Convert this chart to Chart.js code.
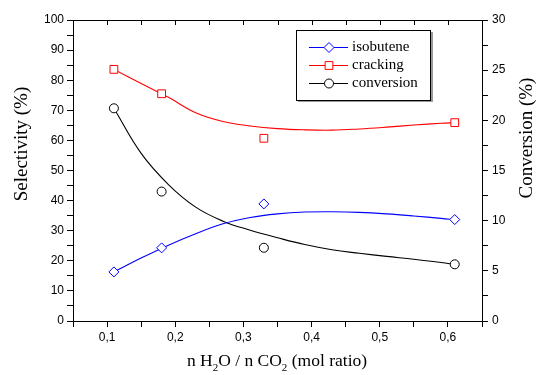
<!DOCTYPE html>
<html>
<head>
<meta charset="utf-8">
<script src="https://cdn.jsdelivr.net/npm/chart.js@4/dist/chart.umd.min.js"></script>
<style>
  html, body { margin: 0; padding: 0; background: #fff; }
</style>
</head>
<body>
<canvas id="myChart" width="536" height="375"></canvas>
<script>
// measured points
const ratios = [0.11, 0.18, 0.33, 0.61]
const isobutene = [16.3, 24.3, 38.9, 33.7]
const cracking = [83.6, 75.5, 60.7, 65.9]
const conversion = [21.2, 12.9, 7.3, 5.65]

// fitted curves
const fitX = [0.11, 0.15, 0.19, 0.23, 0.27, 0.31, 0.35, 0.39, 0.43, 0.47, 0.51, 0.55, 0.59, 0.61]
const isoFit = [16.3, 20.9, 25.2, 29.0, 32.3, 34.4, 35.6, 36.2, 36.3, 36.1, 35.6, 34.9, 34.1, 33.6]
const crackFit = [83.6, 78.9, 74.3, 69.2, 66.3, 64.8, 63.9, 63.5, 63.4, 63.8, 64.4, 65.1, 65.7, 65.9]
const convFit = [21.21, 16.7, 13.6, 11.35, 9.95, 9.05, 8.3, 7.62, 7.1, 6.75, 6.44, 6.16, 5.83, 5.64]

const xy = (xs, ys) => xs.map((x, i) => ({ x: x, y: ys[i] }))

const BLUE = '#0000ff'
const RED = '#ff0000'
const BLACK = '#000000'
const serif = '"Liberation Serif", "Times New Roman", serif'

function fitLine(label, ys, color, axis) {
    return {
        type: 'line', label: label, data: xy(fitX, ys), yAxisID: axis,
        borderColor: color, borderWidth: 1.1, pointRadius: 0,
        tension: 0.4, fill: false
    }
}
function marks(label, ys, color, style, radius, axis) {
    return {
        type: 'line', label: label, data: xy(ratios, ys), yAxisID: axis, showLine: false,
        pointStyle: style, pointRadius: radius, pointBorderWidth: 1,
        pointBorderColor: color, pointBackgroundColor: '#fff', borderColor: color
    }
}

// axis titles, legend, top frame
const extras = {
    id: 'extras',
    afterDraw(chart) {
        const ctx = chart.ctx
        const area = chart.chartArea
        const xs = chart.scales.x
        ctx.save()
        ctx.strokeStyle = BLACK
        ctx.lineWidth = 1
        // top frame + inward ticks
        ctx.beginPath()
        ctx.moveTo(area.left, area.top + 0.5)
        ctx.lineTo(area.right, area.top + 0.5)
        xs.ticks.forEach(t => {
            const px = Math.round(xs.getPixelForValue(t.value)) + 0.5
            ctx.moveTo(px, area.top)
            ctx.lineTo(px, area.top + 5)
        })
        ctx.stroke()

        ctx.fillStyle = BLACK
        ctx.textAlign = 'center'
        ctx.textBaseline = 'middle'
        ctx.font = '19px ' + serif
        ctx.save()
        ctx.translate(22, 144)
        ctx.rotate(-Math.PI / 2)
        ctx.fillText('Selectivity (%)', 0, 0)
        ctx.restore()
        ctx.save()
        ctx.translate(527, 138)
        ctx.rotate(-Math.PI / 2)
        ctx.fillText('Conversion (%)', 0, 0)
        ctx.restore()

        // x title with subscripts
        const parts = [['n H', 0], ['2', 1], ['O / n CO', 0], ['2', 1], [' (mol ratio)', 0]]
        ctx.textAlign = 'left'
        ctx.textBaseline = 'alphabetic'
        let total = 0
        parts.forEach(p => {
            ctx.font = (p[1] ? '11px ' : '17.5px ') + serif
            total += ctx.measureText(p[0]).width
        })
        let cx = 277 - total / 2
        parts.forEach(p => {
            ctx.font = (p[1] ? '11px ' : '17.5px ') + serif
            ctx.fillText(p[0], cx, p[1] ? 371 : 366)
            cx += ctx.measureText(p[0]).width
        })

        // legend
        ctx.fillStyle = '#999'
        ctx.fillRect(298, 100, 134, 2)
        ctx.fillRect(431, 32, 2, 70)
        ctx.fillStyle = '#fff'
        ctx.fillRect(297, 31, 134, 70)
        ctx.strokeStyle = BLACK
        ctx.strokeRect(296.5, 30.5, 134, 70)
        const rows = [
            ['isobutene', BLUE, 'rectRot', 5, 47.5],
            ['cracking', RED, 'rect', 5.5, 65.5],
            ['conversion', BLACK, 'circle', 4.5, 83.5]
        ]
        rows.forEach(r => {
            ctx.strokeStyle = r[1]
            ctx.beginPath()
            ctx.moveTo(309, r[4])
            ctx.lineTo(348, r[4])
            ctx.stroke()
            ctx.fillStyle = '#fff'
            Chart.helpers.drawPoint(ctx, { pointStyle: r[2], radius: r[3], borderWidth: 1, rotation: 0 }, 329, r[4])
            ctx.fillStyle = BLACK
            ctx.font = '15px ' + serif
            ctx.textBaseline = 'middle'
            ctx.fillText(r[0], 352, r[4])
        })
        ctx.restore()
    }
}

const tickFont = { family: '"Liberation Sans", Arial, sans-serif', size: 12 }
const axisGrid = { drawOnChartArea: false, tickLength: 6, tickColor: BLACK, tickWidth: 1 }
const axisBorder = { color: BLACK, width: 1 }

const config = {
    data: {
        datasets: [
            marks('isobutene', isobutene, BLUE, 'rectRot', 5, 'y'),
            marks('cracking', cracking, RED, 'rect', 5.5, 'y'),
            marks('conversion', conversion, BLACK, 'circle', 4.5, 'y2'),
            fitLine('isobutene fit', isoFit, BLUE, 'y'),
            fitLine('cracking fit', crackFit, RED, 'y'),
            fitLine('conversion fit', convFit, BLACK, 'y2')
        ]
    },
    options: {
        responsive: false,
        devicePixelRatio: 1,
        animation: false,
        layout: { padding: { top: 20, left: 0, right: 0, bottom: 0 } },
        plugins: { legend: { display: false }, tooltip: { enabled: false } },
        scales: {
            x: {
                type: 'linear', min: 0.05, max: 0.65,
                grid: axisGrid, border: axisBorder,
                ticks: {
                    stepSize: 0.05, color: BLACK, font: tickFont, padding: 3, maxRotation: 0, autoSkip: false,
                    callback: v => Math.round(v * 20) % 2 === 0 ? v.toFixed(1).replace('.', ',') : ''
                },
                afterFit: s => { s.height = 54 }
            },
            y: {
                position: 'left', min: 0, max: 100,
                grid: axisGrid, border: axisBorder,
                ticks: {
                    stepSize: 5, color: BLACK, font: tickFont, padding: 3, autoSkip: false,
                    callback: v => v % 10 === 0 ? v : ''
                },
                afterFit: s => { s.width = 73 }
            },
            y2: {
                position: 'right', min: 0, max: 30,
                grid: axisGrid, border: axisBorder,
                ticks: {
                    stepSize: 2.5, color: BLACK, font: tickFont, padding: 4, autoSkip: false,
                    callback: v => v % 5 === 0 ? v : ''
                },
                afterFit: s => { s.width = 54 }
            }
        }
    },
    plugins: [extras]
}

const myChart = new Chart(document.getElementById('myChart'), config)
</script>
</body>
</html>
